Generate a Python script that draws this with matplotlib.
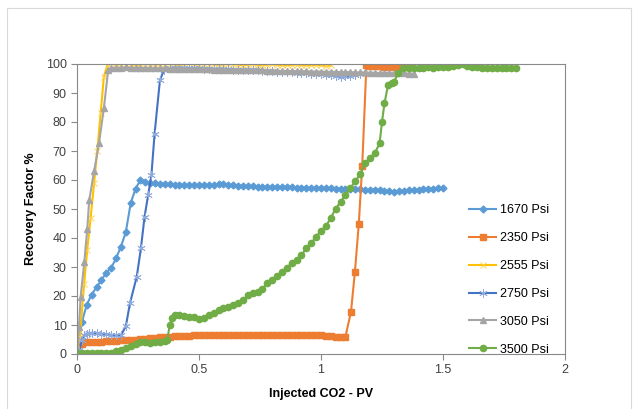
import numpy as np
import matplotlib.pyplot as plt
from matplotlib.patches import Rectangle

plt.rcParams['font.family'] = ['Liberation Sans', 'DejaVu Sans']

# Recovery factor (%) vs injected CO2 (PV), one series per pressure
labels = ["1670 Psi", "2350 Psi", "2555 Psi", "2750 Psi", "3050 Psi", "3500 Psi"]
colors = ["#5B9BD5", "#ED7D31", "#FFC000", "#4472C4", "#A5A5A5", "#70AD47"]

pv_1670 = np.arange(76) * 0.02
rf_1670 = [0, 11, 17, 20.5, 23, 25.5, 28, 29.7, 33, 37,
           42, 52, 57, 60, 59.2, 59, 58.8, 58.6, 58.6, 58.5,
           58.4, 58.4, 58.3, 58.3, 58.2, 58.2, 58.3, 58.2, 58.3, 58.6,
           58.6, 58.4, 58.3, 58.1, 57.9, 57.8, 57.8, 57.7, 57.7, 57.6,
           57.6, 57.6, 57.5, 57.5, 57.5, 57.4, 57.4, 57.3, 57.3, 57.2,
           57.2, 57.1, 57.1, 57.0, 57.0, 56.9, 56.9, 56.8, 56.8, 56.7,
           56.7, 56.6, 56.5, 56.3, 56.1, 55.9, 56.1, 56.3, 56.4, 56.5,
           56.6, 56.8, 56.9, 57.0, 57.1, 57.2]

pv_2350 = list(np.arange(56) * 0.02) + [1.123, 1.139, 1.155, 1.169, 1.186] \
    + list(1.20 + np.arange(9) * 0.02)
rf_2350 = [0, 3.5, 4.0, 4.1, 4.2, 4.3, 4.4, 4.5, 4.6, 4.7,
           4.8, 4.9, 5.0, 5.1, 5.2, 5.4, 5.5, 5.7, 5.9, 6.0,
           6.1, 6.2, 6.3, 6.3, 6.4, 6.5, 6.5, 6.6, 6.6, 6.6,
           6.7, 6.7, 6.7, 6.6, 6.7, 6.7, 6.6, 6.6, 6.7, 6.6,
           6.6, 6.6, 6.6, 6.5, 6.6, 6.6, 6.5, 6.5, 6.5, 6.4,
           6.4, 6.3, 6.2, 6.0, 5.9, 5.9,
           14.6, 28.4, 45, 65, 99.5,
           99.4, 99.3, 99.2, 99.1, 99.0, 98.9, 98.9, 98.8, 98.8]

pv_2555 = [0, 0.012, 0.029, 0.042, 0.056, 0.07, 0.083, 0.097, 0.11, 0.125] \
    + list(0.14 + np.arange(46) * 0.02)
rf_2555 = [0, 6, 24, 36, 47, 59, 70, 83, 95.6, 99.7,
           100.2, 99.9, 99.8, 100.1, 100.0, 99.7, 99.9, 100.2, 100.0, 99.8,
           99.9, 100.1, 100.0, 99.8, 99.7, 100.0, 100.2, 99.9, 99.8, 100.0,
           100.1, 99.9, 99.7, 99.8, 100.0, 99.9, 99.8, 99.6, 99.8, 99.9,
           99.7, 99.6, 99.8, 99.9, 99.7, 99.6, 99.5, 99.7, 99.8, 99.6,
           99.5, 99.6, 99.7, 99.5, 99.4, 99.5]

pv_2750 = [0, 0.01, 0.02, 0.03, 0.04, 0.05, 0.06, 0.08, 0.10, 0.12, 0.14, 0.16, 0.18,
           0.20, 0.217, 0.245, 0.262, 0.277, 0.292, 0.305, 0.318, 0.34, 0.357] \
    + list(0.38 + np.arange(40) * 0.02)
rf_2750 = [0, 1.4, 5, 6.5, 7.0, 7.2, 7.2, 7.1, 7.0, 6.8, 6.6, 6.5, 6.5,
           9.5, 17.5, 26.7, 36.5, 47.4, 55, 61.7, 76, 94.5, 98,
           98.6, 98.7, 98.7, 98.6, 98.6, 98.5, 98.5, 98.4, 98.4, 98.3,
           98.3, 98.2, 98.2, 98.1, 98.0, 98.0, 97.9, 97.8, 97.8, 97.7,
           97.6, 97.5, 97.4, 97.3, 97.2, 97.1, 97.0, 96.9, 96.8, 96.7,
           96.6, 96.5, 96.3, 96.1, 95.8, 95.6, 95.7, 96.0, 96.3, 96.5]

pv_3050 = [0, 0.008, 0.015, 0.03, 0.042, 0.05, 0.07, 0.09, 0.11, 0.128] \
    + list(0.14 + np.arange(63) * 0.02)
rf_3050 = [0, 9.4, 19.8, 31.8, 43, 53, 63, 72.6, 84.7, 98,
           98.6, 98.7, 98.7, 98.8, 98.7, 98.7, 98.6, 98.6, 98.6, 98.5,
           98.5, 98.5, 98.4, 98.4, 98.4, 98.3, 98.3, 98.3, 98.2, 98.2,
           98.2, 98.1, 98.1, 98.0, 98.0, 98.0, 97.9, 97.9, 97.9, 97.8,
           97.8, 97.8, 97.7, 97.7, 97.7, 97.6, 97.6, 97.6, 97.5, 97.5,
           97.5, 97.4, 97.4, 97.4, 97.3, 97.3, 97.3, 97.2, 97.2, 97.2,
           97.1, 97.1, 97.1, 97.0, 97.0, 96.9, 96.9, 96.9, 96.8, 96.8,
           96.8, 96.7, 96.7]

pv_3500 = list(np.arange(19) * 0.02) + [0.37, 0.38, 0.39, 0.40] \
    + list(0.42 + np.arange(42) * 0.02) \
    + [1.25, 1.26, 1.275, 1.29, 1.30, 1.315, 1.335] \
    + list(1.36 + np.arange(23) * 0.02)
rf_3500 = [0.5, 0.3, 0.3, 0.3, 0.3, 0.3, 0.4, 0.5, 1.0, 1.5,
           2.0, 2.7, 3.5, 4.2, 4.0, 3.9, 4.1, 4.3, 4.6,
           4.8, 10, 12.5, 13.4,
           13.4, 13.2, 12.9, 12.6, 12.2, 12.5, 13.4, 14.2, 15.2, 15.8,
           16.3, 16.8, 17.5, 18.5, 20.3, 21.0, 21.5, 22.5, 24.5, 25.5,
           27.0, 28.4, 29.8, 31.3, 32.5, 34.1, 36.5, 38.2, 40.5, 42.5,
           44.0, 47.0, 50.0, 52.5, 54.8, 57.1, 59.5, 62.0, 65.7, 67.5,
           69.2, 72.6,
           80, 86.4, 92.8, 93.5, 93.9, 96.8, 98.5,
           98.6, 98.6, 98.7, 98.6, 98.8, 98.7, 98.8, 98.9, 98.8, 99.2,
           99.8, 100.0, 99.3, 98.9, 98.8, 98.7, 98.7, 98.6, 98.6, 98.5,
           98.5, 98.5, 98.5]

series = [(pv_1670, rf_1670), (pv_2350, rf_2350), (pv_2555, rf_2555),
          (pv_2750, rf_2750), (pv_3050, rf_3050), (pv_3500, rf_3500)]
markers = ["D", "s", "x", (6, 2, 0), "^", "o"]
msizes = [3.5, 4, 5, 6, 4.5, 4.5]
medges = [1.0, 1.0, 0.7, 0.6, 1.0, 1.0]
mcolors = ["#5B9BD5", "#ED7D31", "#FFD24D", "#8EA9DB", "#A5A5A5", "#70AD47"]


fig = plt.figure(figsize=(6.33, 4.09), dpi=100)
# light chart-area border, as in the spreadsheet export
fig.patches.append(Rectangle((7 / 633, -0.05), 624 / 633, 1 - 8 / 409 + 0.05,
                             transform=fig.transFigure, fill=False,
                             edgecolor="#D9D9D9", linewidth=0.8))
ax = fig.add_axes([77 / 633, 55 / 409, 488 / 633, 290 / 409])

for (x, y), lab, c, m, ms, mew, mc in zip(series, labels, colors, markers,
                                          msizes, medges, mcolors):
    ax.plot(x, y, color=c, marker=m, markersize=ms, linewidth=1.5,
            markeredgewidth=mew, markeredgecolor=mc, markerfacecolor=mc, label=lab)

ax.set_xlim(0, 2)
ax.set_ylim(0, 100)
ax.set_xticks([0, 0.5, 1, 1.5, 2])
ax.set_xticklabels(["0", "0.5", "1", "1.5", "2"])
ax.set_yticks(np.arange(0, 101, 10))
ax.tick_params(labelsize=9, labelcolor="#404040", color="#898989", length=4, width=0.8)
for s in ax.spines.values():
    s.set_color("#898989")
    s.set_linewidth(0.8)

ax.set_xlabel("Injected CO2 - PV", fontsize=9, fontweight="bold", labelpad=8)
ax.set_ylabel("Recovery Factor %", fontsize=9, fontweight="bold", labelpad=6)

ax.legend(loc="upper left", bbox_to_anchor=(0.78, 0.555), frameon=False, fontsize=9,
          handlelength=2.2, labelspacing=1.27, handletextpad=0.3)

fig.savefig("out.png", dpi=100)
